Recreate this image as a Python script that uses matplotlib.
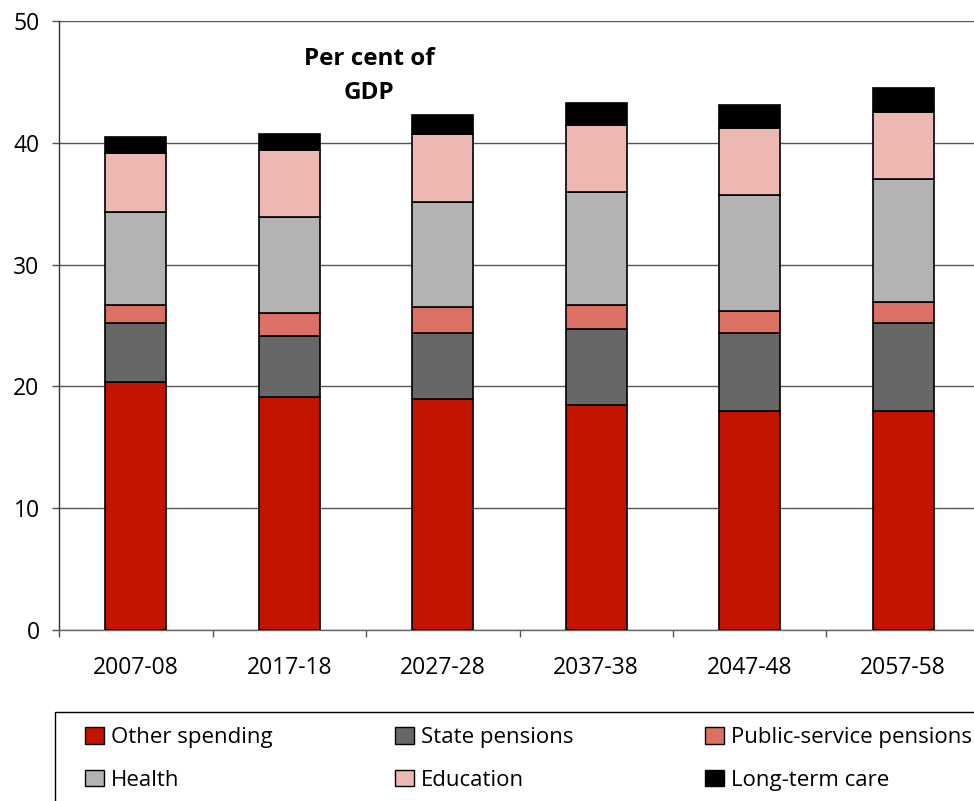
import matplotlib
matplotlib.use("Agg")
import matplotlib.pyplot as plt
from matplotlib.patches import Patch, Rectangle
import numpy as np

plt.rcParams['font.family'] = ['Open Sans', 'DejaVu Sans']

categories = ["2007-08", "2017-18", "2027-28", "2037-38", "2047-48", "2057-58"]
other_spending = [20.4, 19.1, 18.95, 18.5, 18.0, 18.0]
state_pensions = [4.8, 5.0, 5.45, 6.2, 6.4, 7.2]
public_service_pensions = [1.5, 1.9, 2.1, 2.0, 1.8, 1.7]
health = [7.6, 7.9, 8.6, 9.3, 9.5, 10.1]
education = [4.9, 5.5, 5.6, 5.5, 5.5, 5.5]
long_term_care = [1.3, 1.3, 1.6, 1.8, 1.9, 2.0]

series = [
    ("Other spending", other_spending, "#C31400"),
    ("State pensions", state_pensions, "#676767"),
    ("Public-service pensions", public_service_pensions, "#DC7064"),
    ("Health", health, "#B3B3B3"),
    ("Education", education, "#EDB8B2"),
    ("Long-term care", long_term_care, "#000000"),
]

W, H = 974, 801
fig = plt.figure(figsize=(W / 100, H / 100), dpi=100)
ax = fig.add_axes([59 / W, 1 - 630 / H, (980 - 59) / W, (630 - 21) / H])

x = np.arange(len(categories))
bottom = np.zeros(len(categories))
handles = []
for name, vals, col in series:
    vals = np.array(vals)
    ax.bar(x, vals, width=0.4, bottom=bottom, color=col, edgecolor="black",
           linewidth=1.2, zorder=3)
    bottom += vals
    handles.append(Patch(facecolor=col, edgecolor="black", linewidth=1.0, label=name))

ax.set_xlim(-0.5, len(categories) - 0.5)
ax.set_ylim(0, 50)
ax.set_yticks([0, 10, 20, 30, 40, 50])
ax.yaxis.grid(True, color="#555555", linewidth=1.0, zorder=0)
ax.set_axisbelow(True)

ax.set_xticks(x)
ax.set_xticklabels(categories, fontsize=16.5)
ax.set_xticks(np.arange(-0.5, len(categories), 1.0), minor=True)
ax.tick_params(axis="x", which="major", length=0, pad=19)
ax.tick_params(axis="x", which="minor", length=5, width=1, color="#555555", direction="out")
ax.tick_params(axis="y", length=5, width=1, color="#555555", pad=9, labelsize=16.5)

for s in ["top", "right"]:
    ax.spines[s].set_visible(False)
ax.spines["left"].set_color("#333333")
ax.spines["bottom"].set_color("#666666")
ax.spines["left"].set_linewidth(1.0)
ax.spines["bottom"].set_linewidth(1.0)

fig.text(369 / W, 1 - 76 / H, "Per cent of\nGDP", ha="center", va="center",
         fontsize=17.5, fontweight="bold", linespacing=1.6)

# legend frame
fig.add_artist(Rectangle((55 / W, -0.01), 1.0, 1 - 712 / H + 0.01,
                         transform=fig.transFigure, facecolor="white",
                         edgecolor="black", linewidth=1.0, zorder=1))

col_x = [85, 395, 705]
for i, cx in enumerate(col_x):
    hs = [handles[i], handles[i + 3]]
    leg = fig.legend(handles=hs, loc="upper left",
                     bbox_to_anchor=(cx / W, 1 - 727 / H),
                     bbox_transform=fig.transFigure, frameon=False,
                     fontsize=16, handlelength=0.86, handleheight=0.77,
                     handletextpad=0.32, labelspacing=0.97, borderpad=0,
                     borderaxespad=0)
    leg.set_zorder(2)

fig.savefig("out.png", dpi=100)
